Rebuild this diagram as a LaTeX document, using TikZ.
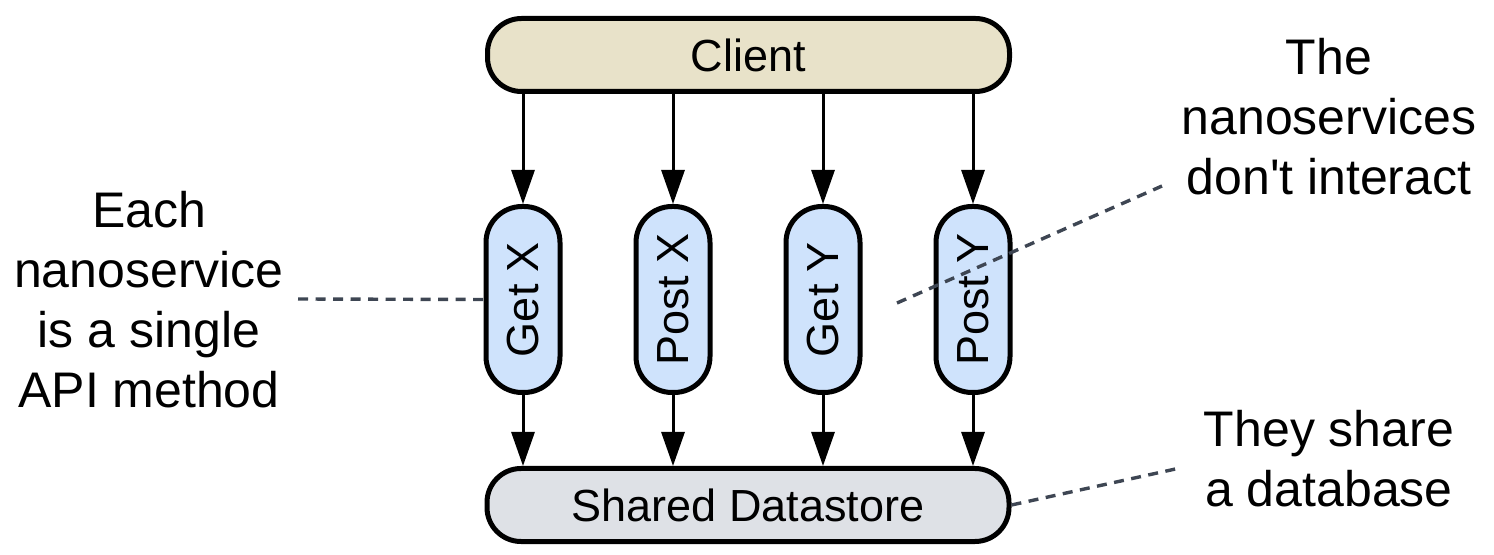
\documentclass[tikz,border=0pt]{standalone}
\usepackage{fontspec}
\setmainfont{Liberation Sans}
\usetikzlibrary{arrows.meta}
\usetikzlibrary{positioning}
\definecolor{ClientFill}{HTML}{E8E2C9}
\definecolor{ServiceFill}{HTML}{CFE3FC}
\definecolor{StoreFill}{HTML}{DEE1E6}
\definecolor{NoteLine}{HTML}{3E4653}

\begin{document}
\begin{tikzpicture}[x=0.5pt,y=-0.5pt,
    box/.style={draw, line width=2.5pt, rounded corners=17pt, inner sep=0pt,
      minimum width=261pt, minimum height=36.5pt,
      font=\fontsize{22.5}{27}\selectfont},
    service/.style={box, rotate=90, fill=ServiceFill, rounded corners=18pt,
      minimum width=93pt, minimum height=37pt},
    arr/.style={-{Triangle[length=17pt,width=11.5pt]}, line width=1.5pt},
    note/.style={NoteLine, line width=1.7pt, dash pattern=on 5pt off 3.75pt},
    remark/.style={align=center, font=\fontsize{25}{30}\selectfont}]
      \useasboundingbox (0,0) rectangle (1494,555);
      \node[box, fill=ClientFill] (client) at (748.5,55) {Client};
      \node[box, fill=StoreFill] (store) at (748,505) {Shared Datastore};
      \node[service] (getx) at (523,299.5) {Get X};
      \node[service] (postx) at (673,299.5) {Post X};
      \node[service] (gety) at (823,299.5) {Get Y};
      \node[service] (posty) at (973,299.5) {Post Y};
      \draw[arr] (getx.east |- client.south) -- (getx.east);
      \draw[arr] (postx.east |- client.south) -- (postx.east);
      \draw[arr] (gety.east |- client.south) -- (gety.east);
      \draw[arr] (posty.east |- client.south) -- (posty.east);
      \draw[arr] (getx.west) -- (getx.west |- store.north);
      \draw[arr] (postx.west) -- (postx.west |- store.north);
      \draw[arr] (gety.west) -- (gety.west |- store.north);
      \draw[arr] (posty.west) -- (posty.west |- store.north);
      % remarks
      \node[remark] (single) at (149,300) {Each\\nanoservice\\is a single\\API method};
      \node[remark] (apart) at (1329,117) {The\\nanoservices\\don\textquotesingle t interact};
      \node[remark] (shared) at (1329,459) {They share\\a database};
      \coordinate (singleend) at (298,299);
      \coordinate (apartstart) at (897,303);
      \coordinate (apartend) at (1162,186);
      \coordinate (sharedend) at (1180,468);
      \draw[note] (singleend) -- (getx.north);
      \draw[note] (apartstart) -- (apartend);
      \draw[note] (store.east) -- (sharedend);
\end{tikzpicture}
\end{document}
